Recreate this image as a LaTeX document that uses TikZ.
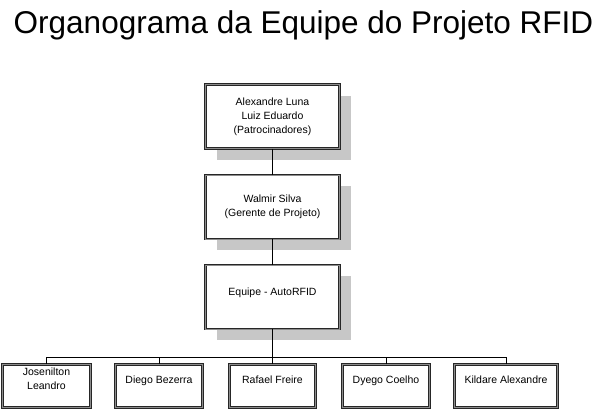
\documentclass[tikz,border=0pt]{standalone}
\usepackage{fontspec}
\setmainfont{Liberation Sans}
\usetikzlibrary{shadows}
\begin{document}
\begin{tikzpicture}[x=1pt,y=-1pt,
  boxbase/.style={rectangle, draw=black!85, double=black!45, double distance=1pt, line width=0.65pt,
    fill=white, inner sep=0pt, align=center, font=\fontsize{10.5}{14}\selectfont},
  mainbox/.style={boxbase, minimum width=134pt, minimum height=64pt,
    drop shadow={shadow xshift=11pt, shadow yshift=-11pt, fill=black!22, opacity=1}},
  teambox/.style={boxbase, minimum height=43pt},
  boxtext/.style={align=center, inner sep=0pt, font=\fontsize{10.5}{14}\selectfont},
  link/.style={draw=black, line width=0.8pt}
]
\useasboundingbox (0,0) rectangle (601,410);
\node[anchor=base, inner sep=0pt, font=\fontsize{31.5}{36}\selectfont] (title) at (303.5,33) {Organograma da Equipe do Projeto RFID};

\node[mainbox] (m1) at (272.5,116.5) {Alexandre Luna\\Luiz Eduardo\\(Patrocinadores)};
\node[mainbox] (m2) at (272.5,207) {Walmir Silva\\(Gerente de Projeto)};
\node[mainbox] (m3) at (272.5,297) {};
\node[boxtext, anchor=base] (m3t) at (272.5,295) {Equipe - AutoRFID};

\node[teambox, minimum width=88pt] (b1) at (46.5,386) {};
\node[teambox, minimum width=87pt] (b2) at (159,386) {};
\node[teambox, minimum width=86pt] (b3) at (272.5,386) {};
\node[teambox, minimum width=87pt] (b4) at (386,386) {};
\node[teambox, minimum width=103pt] (b5) at (506,386) {};

\node[boxtext] (t1) at (46.5,379) {Josenilton\\Leandro};
\node[boxtext, anchor=base] (t2) at (159,383) {Diego Bezerra};
\node[boxtext, anchor=base] (t3) at (272.5,383) {Rafael Freire};
\node[boxtext, anchor=base] (t4) at (386,383) {Dyego Coelho};
\node[boxtext, anchor=base] (t5) at (506,383) {Kildare Alexandre};

\coordinate (jn) at (272.5,357);
\draw[link] (m1.south) -- (m2.north);
\draw[link] (m2.south) -- (m3.north);
\draw[link, line width=1.2pt] (m3.south) -- (jn);
\foreach \b in {b1,b2,b3,b4,b5} {\draw[link] (\b.north) |- (jn);}
\end{tikzpicture}
\end{document}
